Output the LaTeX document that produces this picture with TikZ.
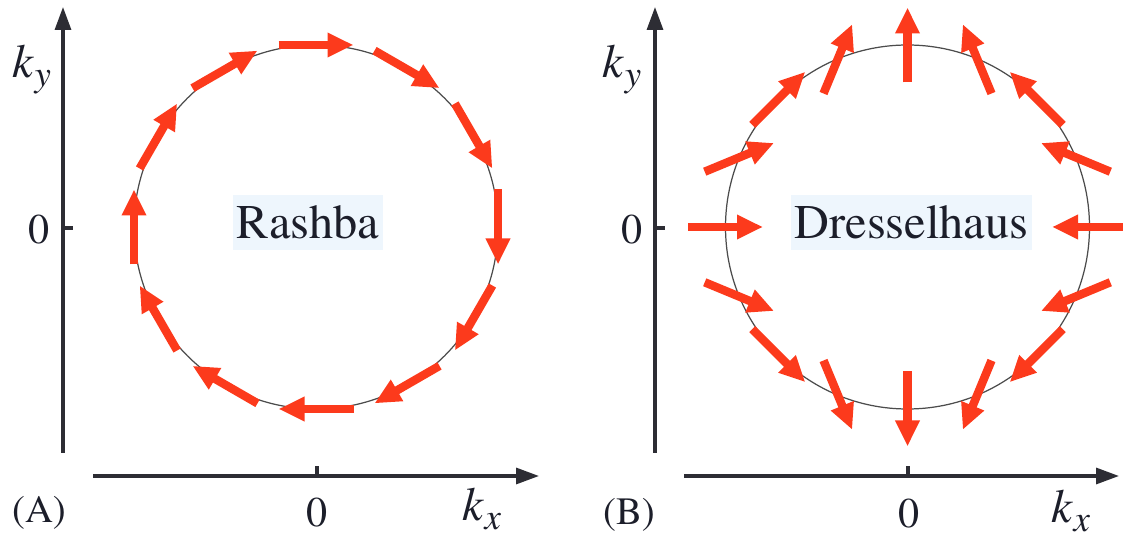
\documentclass[tikz,border=0pt]{standalone}
\usepackage[T1]{fontenc}
\usepackage{mathptmx}
\usetikzlibrary{arrows.meta,calc}
\definecolor{spin}{RGB}{252,58,28}
\definecolor{axiscol}{RGB}{45,45,52}
\definecolor{textcol}{RGB}{28,30,42}
\definecolor{tagfill}{RGB}{238,246,253}
\newcommand{\kcomp}[1]{\textit{k}\raisebox{-5pt}{\fontsize{21}{21}\selectfont\textit{#1}}}

\begin{document}
\begin{tikzpicture}[
  axis/.style={draw=axiscol, line width=1.8pt, -{Triangle[length=4.6mm, width=3.2mm]}},
  tick/.style={draw=axiscol, line width=1.8pt},
  orbit/.style={draw=black!70, line width=0.7pt},
  spinarrow/.style={draw=spin, line width=4.8pt, -{Triangle[length=5.2mm, width=4.6mm]}},
  tag/.style={fill=tagfill, text=textcol, font=\fontsize{27.5}{30}\selectfont,
              inner xsep=2pt, minimum height=1.1cm},
  lbl/.style={text=textcol, font=\fontsize{24}{26}\selectfont, inner sep=0pt},
  klbl/.style={text=textcol, font=\fontsize{27}{30}\selectfont, inner sep=0pt},
]
  \useasboundingbox (0,0) rectangle (22.46,10.74);

  % (A) Rashba
  \coordinate (cA) at (6.32,6.20);
  \coordinate (yA0) at (1.26,1.68);
  \coordinate (yA1) at (1.26,10.60);
  \coordinate (xA0) at (1.86,1.22);
  \coordinate (xA1) at (10.78,1.22);
  \coordinate (tyA) at (1.26,6.18);
  \coordinate (txA) at (6.34,1.22);
  \draw[axis] (yA0) -- (yA1);
  \draw[axis] (xA0) -- (xA1);
  \draw[tick] (tyA) -- ++(0.2,0);
  \draw[tick] (txA) -- ++(0,0.2);

  \draw[orbit] (cA) circle[radius=3.64];
  \foreach \a in {0,30,...,330}
    \draw[spinarrow] ($(cA)+(\a:3.64)+(\a+90:0.75)$) -- ($(cA)+(\a:3.64)+(\a-90:0.75)$);

  \node[tag] (rashba) at (6.16,6.29) {Rashba};
  \node[klbl] (kyA) at (0.64,9.34) {\kcomp{y}};
  \node[klbl] (kxA) at (9.64,0.56) {\kcomp{x}};
  \node[lbl] (zyA) at (0.78,6.16) {0};
  \node[lbl] (zxA) at (6.34,0.50) {0};
  \node[lbl, font=\fontsize{22}{24}\selectfont] (tagA) at (0.78,0.48) {(A)};

  % (B) Dresselhaus
  \coordinate (cB) at (18.15,6.20);
  \coordinate (yB0) at (13.10,1.68);
  \coordinate (yB1) at (13.10,10.60);
  \coordinate (xB0) at (13.68,1.22);
  \coordinate (xB1) at (22.38,1.22);
  \coordinate (tyB) at (13.10,6.18);
  \coordinate (txB) at (18.16,1.22);
  \draw[axis] (yB0) -- (yB1);
  \draw[axis] (xB0) -- (xB1);
  \draw[tick] (tyB) -- ++(0.2,0);
  \draw[tick] (txB) -- ++(0,0.2);

  \draw[orbit] (cB) circle[radius=3.64];
  \foreach \a in {0,22.5,...,337.5}
    \draw[spinarrow] ($(cB)+(\a:3.64)+(-\a:0.75)$) -- ($(cB)+(\a:3.64)+(180-\a:0.75)$);

  \node[tag] (dressel) at (18.23,6.29) {Dresselhaus};
  \node[klbl] (kyB) at (12.44,9.34) {\kcomp{y}};
  \node[klbl] (kxB) at (21.42,0.52) {\kcomp{x}};
  \node[lbl] (zyB) at (12.64,6.16) {0};
  \node[lbl] (zxB) at (18.18,0.48) {0};
  \node[lbl, font=\fontsize{22}{24}\selectfont] (tagB) at (12.58,0.44) {(B)};
\end{tikzpicture}
\end{document}
